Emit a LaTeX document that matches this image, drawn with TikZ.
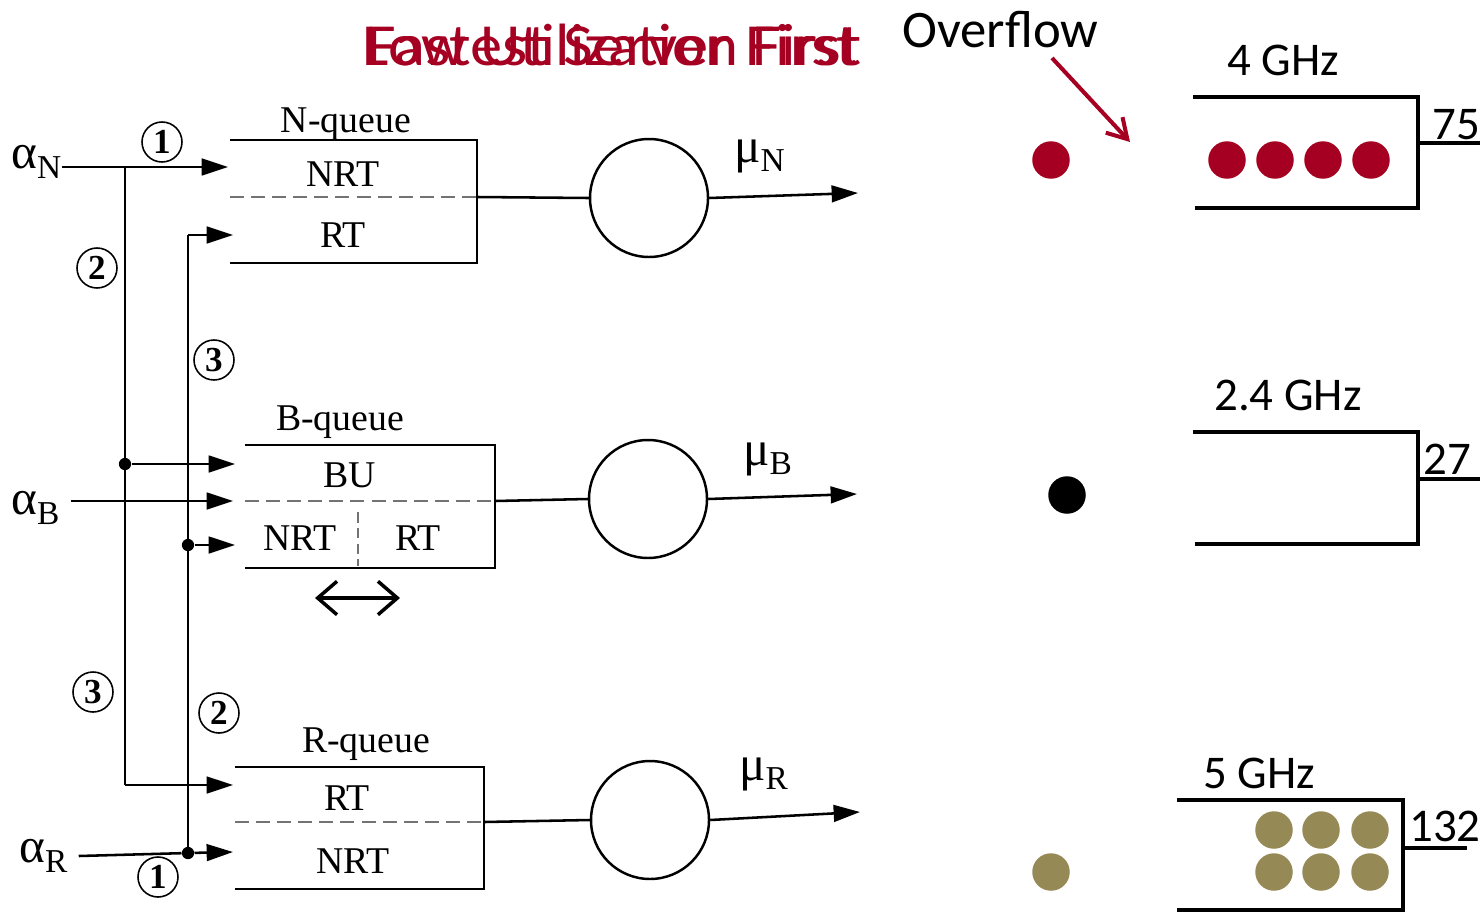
\documentclass[tikz,border=0pt]{standalone}
\usepackage{fontspec}
\setmainfont{Carlito}
\newfontfamily\scan{Liberation Serif}
\usetikzlibrary{positioning,arrows.meta}
\definecolor{dotred}{RGB}{165,0,33}
\definecolor{dotolive}{RGB}{149,138,85}
\newcommand{\rate}[2]{#1\raisebox{-0.42ex}{\fontsize{19}{19}\selectfont #2}}

\begin{document}
\begin{tikzpicture}[x=0.02cm,y=-0.02cm,
  qwall/.style={line width=1.45pt},
  qsplit/.style={line width=0.9pt,black!55,dash pattern=on 8pt off 4pt},
  feed/.style={line width=1.45pt,-{Triangle[length=15pt,width=9.5pt]}},
  server/.style={circle,draw,line width=1.4pt,minimum size=2.36cm,inner sep=0pt},
  ring/.style={circle,draw,line width=0.9pt,minimum size=0.8cm,inner sep=0pt,
               font=\scan\bfseries\fontsize{20}{20}\selectfont},
  scantxt/.style={font=\scan\fontsize{21.5}{24}\selectfont,inner sep=0pt},
  greek/.style={font=\scan\fontsize{28}{28}\selectfont,inner sep=0pt,anchor=west},
  joint/.style={circle,fill,inner sep=0pt,minimum size=7pt},
  band/.style={line width=2.3pt},
  ghz/.style={font=\fontsize{26.7}{30}\selectfont,inner sep=0pt,anchor=base west},
  job/.style={circle,inner sep=0pt,minimum size=0.75cm}]
\useasboundingbox (0,0) rectangle (1480,913);

% N-queue
\draw[qwall] (230,140) -| (477,263) -- (230,263);
\draw[qsplit] (230,197) -- (477,197);
\node[scantxt,anchor=base] (nqLbl) at (346,132) {N-queue};
\node[scantxt,anchor=base] (nqNRT) at (343,186) {NRT};
\node[scantxt,anchor=base] (nqRT) at (343,247) {RT};
\coordinate (nqEnd) at (477,197);
\coordinate (nIn1) at (228,167);
\coordinate (nIn2) at (233,235);

% B-queue
\draw[qwall] (245,445) -| (495,568) -- (245,568);
\draw[qsplit] (245,501) -- (495,501);
\draw[qsplit,dash pattern=on 6pt off 3pt] (358,512) -- (358,566);
\node[scantxt,anchor=base] (bqLbl) at (340,430) {B-queue};
\node[scantxt,anchor=base] (bqBU) at (350,487) {BU};
\node[scantxt,anchor=base] (bqNRT) at (300,550) {NRT};
\node[scantxt,anchor=base] (bqRT) at (418,550) {RT};
\coordinate (bqEnd) at (495,501);
\coordinate (bIn1) at (235,464);
\coordinate (bIn2) at (233,501);
\coordinate (bIn3) at (235,545);
\coordinate (swapL) at (315,598);
\coordinate (swapR) at (400,598);
\draw[line width=2pt,{Straight Barb[length=11pt,width=19pt]}-{Straight Barb[length=11pt,width=19pt]}]
  (swapL) -- (swapR);

% R-queue
\draw[qwall] (235,767) -| (484,889) -- (235,889);
\draw[qsplit] (235,822) -- (484,822);
\node[scantxt,anchor=base] (rqLbl) at (366,752) {R-queue};
\node[scantxt,anchor=base] (rqRT) at (347,810) {RT};
\node[scantxt,anchor=base] (rqNRT) at (353,873) {NRT};
\coordinate (rqEnd) at (484,822);
\coordinate (rIn1) at (233,785);
\coordinate (rIn2) at (233,852);

% servers
\node[server] (srvN) at (649,198) {};
\node[server] (srvB) at (648,499) {};
\node[server] (srvR) at (650,820) {};
\coordinate (outN) at (858,193);
\coordinate (outB) at (857,494);
\coordinate (outR) at (860,812);
\draw[qwall] (nqEnd) -- (srvN.west);
\draw[qwall] (bqEnd) -- (srvB.west);
\draw[qwall] (rqEnd) -- (srvR.west);
\draw[feed] (srvN.east) -- (outN);
\draw[feed] (srvB.east) -- (outB);
\draw[feed] (srvR.east) -- (outR);
\node[greek] (muN) at (734,156) {\rate{μ}{N}};
\node[greek] (muB) at (743,459) {\rate{μ}{B}};
\node[greek] (muR) at (739,774) {\rate{μ}{R}};

% arrivals
\node[greek] (aN) at (11,162) {\rate{α}{N}};
\node[greek] (aB) at (11,508) {\rate{α}{B}};
\node[greek] (aR) at (19,856) {\rate{α}{R}};
\coordinate (colA) at (125,167);
\coordinate (colAbot) at (125,785);
\coordinate (colBtop) at (188,235);
\node[joint] (jBU) at (125,464) {};
\node[joint] (jNRT) at (188,545) {};
\node[joint] (jR) at (188,853) {};
\draw[feed] (aN.east |- nIn1) -- (nIn1);
\draw[qwall] (colA) -- (colAbot);
\draw[feed] (colAbot) -- (rIn1);
\draw[feed] (jBU) -- (bIn1);
\draw[feed] ([xshift=0.22cm]aB.east |- bIn2) -- (bIn2);
\draw[qwall] (jR) -- (colBtop);
\draw[feed] (colBtop) -- (nIn2);
\draw[feed] (jNRT) -- (bIn3);
\draw[qwall] ([xshift=0.22cm]aR.east) -- (jR);
\draw[feed] (jR) -- (rIn2);

% routing order
\node[ring] (ordN1) at (162,142) {1};
\node[ring] (ordN2) at (97,268) {2};
\node[ring] (ordN3) at (93,692) {3};
\node[ring] (ordR1) at (158,877) {1};
\node[ring] (ordR2) at (219,713) {2};
\node[ring] (ordR3) at (214,360) {3};

% right panel
\node[text=dotred,font=\fontsize{34}{34}\selectfont,inner sep=0pt,anchor=base] (ttlFast) at (612,65)
  {\scalebox{1.08}[1]{Fastest Server First}};
\node[text=dotred,font=\fontsize{34}{34}\selectfont,inner sep=0pt,anchor=base] (ttlLow) at (612,65)
  {\scalebox{1.05}[1]{Low Utilization First}};
\node[font=\fontsize{30}{30}\selectfont,inner sep=0pt,anchor=base west] (ovf) at (902,47) {Overflow};
\coordinate (ovfTail) at (1052,58);
\coordinate (ovfHead) at (1130,142);
\draw[dotred,line width=2.3pt,-{Straight Barb[length=11pt,width=13pt]}] (ovfTail) -- (ovfHead);

% 4 GHz
\draw[band] (1193,97) -| (1418,208) -- (1195,208);
\coordinate (q4out) at (1418,143);
\coordinate (q4end) at (1480,143);
\draw[band] (q4out) -- (q4end);
\node[ghz] (lbl4) at (1227,75) {4 GHz};
\node[ghz] (cnt4) at (1432,139) {75};
\node[job,fill=dotred] (wait4) at (1051,160) {};
\foreach \x in {1227,1275,1323,1371}
  \node[job,fill=dotred] (job4\x) at (\x,160) {};

% 2.4 GHz
\draw[band] (1193,432) -| (1418,544) -- (1195,544);
\coordinate (q24out) at (1418,479);
\coordinate (q24end) at (1480,479);
\draw[band] (q24out) -- (q24end);
\node[ghz] (lbl24) at (1214,410) {2.4 GHz};
\node[ghz] (cnt24) at (1423,474) {27};
\node[job,fill=black] (wait24) at (1067,495) {};

% 5 GHz
\draw[band] (1177,800) -| (1403,910) -- (1177,910);
\coordinate (q5out) at (1403,848);
\coordinate (q5end) at (1467,848);
\draw[band] (q5out) -- (q5end);
\node[ghz] (lbl5) at (1203,788) {5 GHz};
\node[ghz] (cnt5) at (1409,841) {132};
\node[job,fill=dotolive] (wait5) at (1051,872) {};
\foreach \x in {1274,1321,1370}
  \foreach \y in {830,872}
    \node[job,fill=dotolive] (job5\x\y) at (\x,\y) {};
\end{tikzpicture}
\end{document}
